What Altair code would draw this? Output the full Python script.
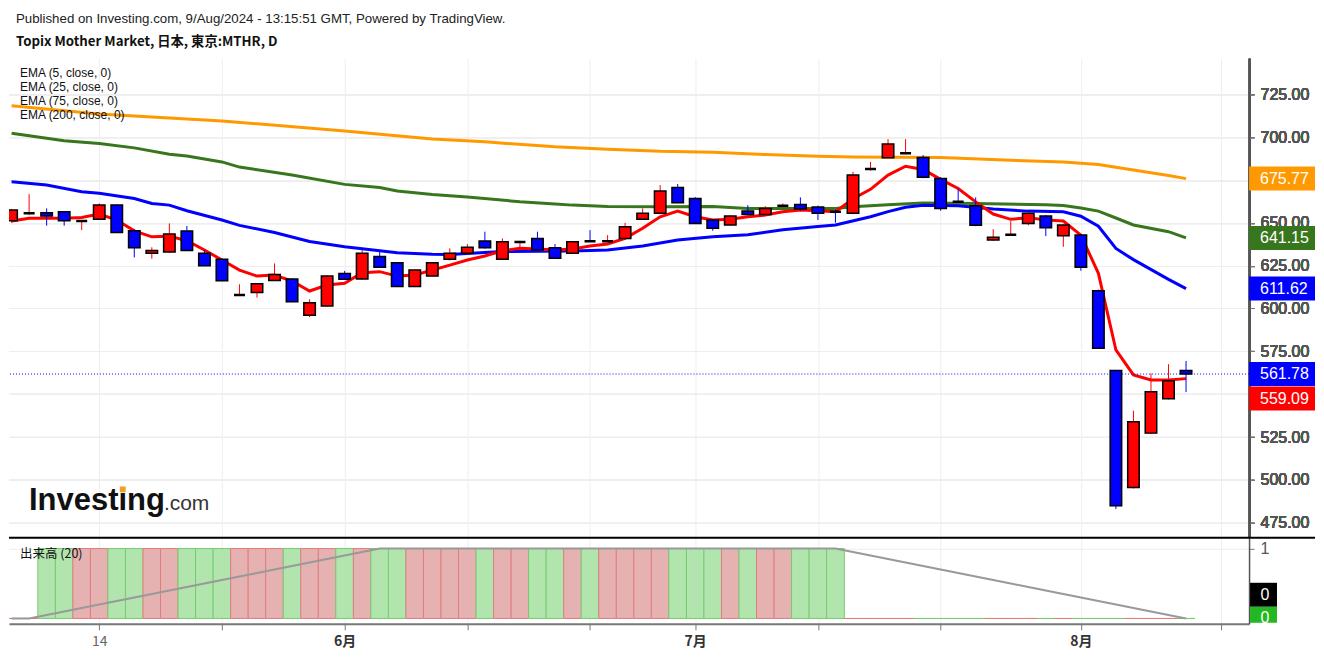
import altair as alt
import pandas as pd

# ---------------- data ----------------
idx = list(range(68))  # trading days 7 May 2024 .. 9 Aug 2024

opens = [651.2, 655.5, 655.8, 656.4, 651.0, 652.0, 660.3, 645.3, 632.2, 632.9,
         645.2, 632.2, 628.7, 607.9, 609.4, 616.3, 617.2, 596.0, 601.5, 620.4,
         617.2, 630.4, 626.7, 612.8, 618.9, 628.7, 632.2, 639.3, 628.7, 638.8,
         640.9, 635.4, 632.2, 639.2, 639.2, 640.9, 652.0, 655.5, 670.6, 664.2,
         651.6, 648.7, 656.8, 654.9, 659.9, 660.7, 659.2, 656.4, 655.5, 681.3,
         687.9, 690.6, 688.1, 675.9, 662.3, 659.9, 639.9, 643.0, 649.6, 653.9,
         642.4, 642.8, 610.4, 563.8, 495.6, 527.3, 547.3, 563.8]
highs = [658.0, 666.7, 658.4, 656.8, 651.5, 661.3, 660.8, 646.2, 635.7, 649.6,
         648.1, 634.1, 629.0, 614.1, 614.6, 626.3, 617.5, 605.4, 619.3, 621.9,
         634.1, 633.1, 627.0, 622.8, 627.0, 635.1, 637.6, 644.8, 640.9, 639.5,
         644.8, 637.6, 639.2, 645.7, 642.8, 650.0, 658.4, 672.0, 672.6, 665.0,
         652.0, 654.2, 660.3, 659.7, 661.3, 664.8, 660.0, 657.5, 679.7, 685.5,
         698.8, 698.8, 689.5, 676.5, 670.0, 664.8, 646.3, 651.0, 655.8, 654.5,
         649.0, 643.5, 611.0, 564.0, 540.4, 562.2, 567.5, 569.4]
lows = [650.0, 654.5, 648.3, 648.3, 645.7, 652.0, 644.0, 629.8, 629.0, 632.5,
        633.5, 624.8, 616.0, 607.5, 606.3, 616.0, 603.8, 595.0, 601.0, 616.8,
        617.0, 623.8, 612.5, 612.5, 618.7, 628.0, 632.0, 635.0, 628.5, 633.7,
        634.0, 629.0, 632.0, 639.0, 639.0, 640.5, 651.8, 655.0, 661.5, 649.5,
        645.3, 648.5, 654.5, 654.5, 659.0, 657.0, 651.6, 650.0, 655.0, 680.5,
        687.5, 690.0, 676.0, 657.0, 661.5, 648.0, 639.5, 642.5, 648.5, 642.2,
        636.0, 622.0, 576.5, 483.0, 495.0, 527.0, 547.0, 551.2]
closes = [657.4, 655.5, 653.9, 651.2, 651.0, 660.3, 644.4, 635.4, 633.9, 643.4,
          633.9, 625.0, 616.2, 607.9, 614.5, 619.9, 604.0, 603.4, 618.9, 617.0,
          632.2, 624.0, 612.8, 622.4, 626.7, 632.2, 635.7, 635.4, 639.0, 638.8,
          634.1, 629.3, 639.0, 639.2, 639.2, 647.7, 655.5, 668.6, 661.7, 649.6,
          646.8, 653.9, 654.9, 658.4, 659.9, 658.0, 655.5, 656.4, 677.8, 681.3,
          695.9, 690.6, 676.5, 658.4, 662.3, 648.5, 641.5, 643.0, 655.5, 647.1,
          648.7, 624.0, 576.8, 484.9, 534.0, 551.5, 557.8, 561.78]
dirs = ["up", "up", "down", "down", "up", "up", "down", "down", "up", "up",
        "down", "down", "down", "up", "up", "up", "down", "up", "up", "down",
        "up", "down", "down", "up", "up", "up", "up", "down", "up", "up",
        "down", "down", "up", "down", "up", "up", "up", "up", "down", "down",
        "down", "up", "down", "up", "up", "down", "down", "down", "up", "up",
        "up", "up", "down", "down", "down", "down", "up", "up", "up", "down",
        "up", "down", "down", "down", "up", "up", "up", "down"]

ema5 = [651.0, 652.6, 652.6, 652.6, 653.1, 655.1, 651.6, 645.3, 641.8, 642.2,
        639.5, 634.1, 628.3, 622.4, 618.9, 619.5, 616.0, 610.2, 613.7, 614.7,
        620.9, 621.5, 618.9, 619.5, 622.4, 625.3, 628.3, 630.6, 633.7, 635.1,
        634.7, 634.1, 634.7, 636.4, 637.6, 640.9, 646.8, 653.5, 656.8, 653.5,
        651.6, 652.0, 653.5, 654.5, 656.4, 657.4, 657.0, 656.4, 664.0, 669.5,
        677.8, 683.0, 681.1, 675.3, 670.0, 662.2, 655.1, 652.0, 653.0, 651.6,
        651.0, 642.8, 620.5, 575.8, 561.3, 558.3, 558.3, 559.09]

ema25_i = [0, 2, 4, 5, 7, 8, 9, 10, 12, 13, 15, 17, 19, 22, 24, 25, 28, 32, 34, 36,
           38, 40, 42, 44, 46, 47, 49, 50, 51, 52, 54, 56, 58, 60, 61, 62, 63, 64, 66, 67]
ema25_v = [674.0, 672.0, 668.1, 667.2, 664.2, 661.3, 660.3, 657.0, 651.6, 648.5,
           644.3, 639.1, 636.0, 632.5, 631.6, 631.5, 633.3, 633.5, 634.1, 636.4,
           639.9, 641.9, 643.0, 645.9, 647.8, 648.7, 653.5, 656.5, 659.0, 660.2,
           660.0, 658.0, 656.8, 656.4, 653.8, 648.0, 635.0, 628.5, 617.0, 611.62]

ema75_i = [0, 3, 5, 7, 9, 10, 12, 13, 16, 19, 21, 22, 24, 26, 29, 31, 32, 34, 37, 40,
           42, 45, 47, 48, 50, 52, 55, 59, 60, 61, 62, 63, 64, 66, 67]
ema75_v = [702.2, 697.8, 696.3, 693.7, 690.0, 688.9, 685.5, 682.5, 677.9, 672.4,
           670.6, 668.5, 666.5, 665.0, 662.3, 661.0, 660.3, 659.5, 659.3, 659.5,
           658.4, 658.4, 658.4, 659.3, 660.5, 661.5, 661.3, 660.5, 660.1, 658.6,
           656.8, 652.8, 648.7, 644.8, 641.15]

ema200_i = [0, 5, 12, 19, 24, 27, 31, 34, 37, 40, 43, 46, 48, 53, 57, 60, 62, 64, 66, 67]
ema200_v = [718.2, 713.4, 709.4, 703.6, 698.9, 697.2, 694.3, 692.9, 691.7, 691.2,
            689.8, 688.8, 688.3, 688.1, 686.5, 685.5, 684.0, 680.8, 677.6, 675.77]

volume = [0, 0, 1, 1, 1, 1, 1, 1, 1, 1,
          1, 1, 1, 1, 1, 1, 1, 1, 1, 1,
          1, 1, 1, 1, 1, 1, 1, 1, 1, 1,
          1, 1, 1, 1, 1, 1, 1, 1, 1, 1,
          1, 1, 1, 1, 1, 1, 1, 1, 0, 0,
          0, 0, 0, 0, 0, 0, 0, 0, 0, 0,
          0, 0, 0, 0, 0, 0, 0, 0]
vol_sma = [0.0, 0.0, 0.05, 0.10, 0.15, 0.20, 0.25, 0.30, 0.35, 0.40,
           0.45, 0.50, 0.55, 0.60, 0.65, 0.70, 0.75, 0.80, 0.85, 0.90,
           0.95, 1.0, 1.0, 1.0, 1.0, 1.0, 1.0, 1.0, 1.0, 1.0,
           1.0, 1.0, 1.0, 1.0, 1.0, 1.0, 1.0, 1.0, 1.0, 1.0,
           1.0, 1.0, 1.0, 1.0, 1.0, 1.0, 1.0, 1.0, 0.95, 0.90,
           0.85, 0.80, 0.75, 0.70, 0.65, 0.60, 0.55, 0.50, 0.45, 0.40,
           0.35, 0.30, 0.25, 0.20, 0.15, 0.10, 0.05, 0.0]

last_price = 561.78
axis_labels = [675.77, 641.15, 611.62, 561.78]
axis_label_colors = ["#ff9900", "#38761d", "#0000ff", "#0000ff"]
ema5_label = 559.09
price_ticks = [475, 500, 525, 550, 575, 600, 625, 650, 675, 700, 725]
hidden_tick = 550  # covered by the EMA(5) value box in the reference
x_ticks = [5, 12, 19, 26, 33, 39, 46, 53, 61, 69]
x_label_idx = [5, 19, 39, 61]
x_label_txt = ["14", "6月", "7月", "8月"]
legend_lines = ["EMA (5, close, 0)", "EMA (25, close, 0)", "EMA (75, close, 0)", "EMA (200, close, 0)"]

# ---------------- frames ----------------
candles = pd.DataFrame({"i": idx, "open": opens, "high": highs, "low": lows,
                        "close": closes, "dir": dirs})
lines = pd.concat([
    pd.DataFrame({"i": ema200_i, "v": ema200_v, "s": "ema200"}),
    pd.DataFrame({"i": ema75_i, "v": ema75_v, "s": "ema75"}),
    pd.DataFrame({"i": ema25_i, "v": ema25_v, "s": "ema25"}),
    pd.DataFrame({"i": idx, "v": ema5, "s": "ema5"}),
])
vol = pd.DataFrame({"i": idx, "vol": volume, "sma": vol_sma, "dir": dirs})
lbl = pd.DataFrame({"val": axis_labels, "col": axis_label_colors})
lbl5 = pd.DataFrame({"val": [ema5_label]})
lastdf = pd.DataFrame({"val": [last_price]})
one = pd.DataFrame({"k": [0]})
legend_df = pd.DataFrame({"row": list(range(len(legend_lines))), "txt": legend_lines})

# ---------------- scales / axes ----------------
W, H_PRICE, H_VOL = 1241, 479, 86
RIGHT = 1307  # right edge of the value boxes, in plot pixels
x_scale = alt.Scale(domain=[0.137, 70.31], nice=False, zero=False)
p_scale = alt.Scale(domain=[466.8, 746.0], nice=False, zero=False)
v_scale = alt.Scale(domain=[-0.076, 1.153], nice=False, zero=False)
GRID = "#eeeeee"

x_price_axis = alt.Axis(values=x_ticks, labels=False, ticks=False, domain=False,
                        grid=True, gridColor=GRID, title=None)
p_axis = alt.Axis(orient="right", values=price_ticks,
                  labelExpr=f"datum.value == {hidden_tick} ? '' : format(datum.value, '.2f')",
                  labelColor="#555555",
                  labelFont="Liberation Sans", labelFontSize=16, tickSize=5,
                  tickColor="#777777", domainColor="#555555", domainWidth=1.5,
                  grid=True, gridColor=GRID, labelPadding=6, title=None)

label_expr = " : ".join(f"datum.value == {k} ? '{t}'" for k, t in zip(x_label_idx, x_label_txt)) + " : ''"
first_lbl = x_label_idx[0]
x_vol_axis = alt.Axis(values=x_ticks, labelExpr=label_expr, tickSize=6, tickColor="#777777",
                      domainColor="#777777", domainWidth=2, grid=True, gridColor=GRID,
                      labelFont="Noto Sans CJK JP", labelFontSize=14, labelPadding=5,
                      labelColor={"condition": {"test": f"datum.value == {first_lbl}", "value": "#666666"}, "value": "#333333"},
                      labelFontWeight={"condition": {"test": f"datum.value == {first_lbl}", "value": "normal"}, "value": "bold"},
                      title=None)
v_axis = alt.Axis(orient="right", values=[1], format="d", labelColor="#555555",
                  labelFont="Liberation Sans", labelFontSize=16, tickSize=5,
                  tickColor="#777777", domainColor="#555555", domainWidth=1.5,
                  grid=True, gridColor=GRID, labelPadding=6, title=None)


def X():
    return alt.X("i:Q", scale=x_scale, axis=x_price_axis)


def PY(f):
    return alt.Y(f"{f}:Q", scale=p_scale, axis=p_axis)


line_colors = {"ema200": "#ff9900", "ema75": "#38761d", "ema25": "#0000ff", "ema5": "#ff0000"}
ema_layers = []
for s in ["ema200", "ema75", "ema25", "ema5"]:
    ema_layers.append(
        alt.Chart(lines).transform_filter(f"datum.s == '{s}'")
        .mark_line(color=line_colors[s], strokeWidth=3, clip=True)
        .encode(x=X(), y=PY("v"))
    )

dir_scale = alt.Scale(domain=["up", "down"], range=["#ff0000", "#0000ff"])

last_rule = alt.Chart(lastdf).mark_rule(color="#0000ff", strokeDash=[1, 2], strokeWidth=1).encode(y=PY("val"))

wicks = alt.Chart(candles).mark_rule(strokeWidth=1, clip=True).encode(
    x=X(), y=PY("low"), y2="high", color=alt.Color("dir:N", scale=dir_scale, legend=None))

bodies = alt.Chart(candles).transform_filter("datum.open != datum.close").mark_bar(
    size=11.5, stroke="black", strokeWidth=1.5, opacity=1, orient="vertical", clip=True
).encode(x=X(), y=PY("open"), y2="close", color=alt.Color("dir:N", scale=dir_scale, legend=None))

dojis = alt.Chart(candles).transform_filter("datum.open == datum.close").mark_bar(
    size=11, color="black", stroke="black", strokeWidth=2.5, opacity=1, orient="vertical", clip=True
).encode(x=X(), y=PY("open"), y2="close")

# indicator legend, one text per line, 14 px apart
legend_txt = alt.Chart(legend_df).transform_calculate(
    ypix="19 + 14 * datum.row"
).mark_text(align="left", baseline="alphabetic", font="Liberation Sans", fontSize=12,
            color="#111111").encode(
    x=alt.value(11), y=alt.Y("ypix:Q", scale=None, axis=None), text="txt:N")

logo1 = alt.Chart(one).mark_text(align="left", baseline="alphabetic", font="Liberation Sans",
                                 fontSize=31, fontWeight="bold", color="#111111").encode(
    x=alt.value(20), y=alt.value(452), text=alt.value("Investing"))
logo_dot = alt.Chart(one).mark_point(shape="square", filled=True, size=34, opacity=1,
                                     color="#f5a01a").encode(x=alt.value(113.8), y=alt.value(431.5))
logo2 = alt.Chart(one).mark_text(align="left", baseline="alphabetic", font="Liberation Sans",
                                 fontSize=21, color="#333333").encode(
    x=alt.value(155), y=alt.value(452), text=alt.value(".com"))

boxes = alt.Chart(lbl).mark_tick(orient="horizontal", thickness=24, size=RIGHT - W, opacity=1).encode(
    x=alt.value((RIGHT + W) / 2), y=PY("val"), color=alt.Color("col:N", scale=None))
box_txt = alt.Chart(lbl).mark_text(align="left", baseline="middle", font="Liberation Sans",
                                   fontSize=16, color="white").encode(
    x=alt.value(1252), y=PY("val"), text=alt.Text("val:Q", format=".2f"))
box5 = alt.Chart(lbl5).mark_tick(orient="horizontal", thickness=24, size=RIGHT - W, opacity=1,
                                 color="#ff0000", yOffset=20).encode(x=alt.value((RIGHT + W) / 2), y=PY("val"))
box5_txt = alt.Chart(lbl5).mark_text(align="left", baseline="middle", font="Liberation Sans",
                                     fontSize=16, color="white", yOffset=20).encode(
    x=alt.value(1252), y=PY("val"), text=alt.Text("val:Q", format=".2f"))

price = alt.layer(*ema_layers, last_rule, wicks, bodies, dojis, legend_txt, logo1, logo_dot, logo2,
                  boxes, box_txt, box5, box5_txt).resolve_scale(y="independent").properties(
    width=W, height=H_PRICE)

# ---------------- volume pane ----------------
XV = alt.X("i:Q", scale=x_scale, axis=x_vol_axis)
vfill = alt.Scale(domain=["up", "down"], range=["#e6b1b1", "#b1e5ad"])
vstroke = alt.Scale(domain=["up", "down"], range=["#e07c7c", "#72cc6e"])


def VY(f):
    return alt.Y(f"{f}:Q", scale=v_scale, axis=v_axis)


vbars = alt.Chart(vol).mark_bar(size=17.7, strokeWidth=1, opacity=1, orient="vertical", clip=True).encode(
    x=XV, y=VY("vol"), y2=alt.datum(0),
    fill=alt.Fill("dir:N", scale=vfill, legend=None),
    stroke=alt.Stroke("dir:N", scale=vstroke, legend=None))
vline = alt.Chart(vol).mark_line(color="#999999", strokeWidth=2, clip=True).encode(x=XV, y=VY("sma"))
vtitle = alt.Chart(one).mark_text(align="left", baseline="alphabetic", font="Noto Sans CJK JP",
                                  fontSize=12.5, color="#111111").encode(
    x=alt.value(11), y=alt.value(20), text=alt.value("出来高 (20)"))
sep = alt.Chart(one).mark_rule(color="black", strokeWidth=2).encode(
    x=alt.value(0), x2=alt.value(RIGHT), y=alt.value(0))
zero = one.assign(v=0)
zero_black = alt.Chart(zero).mark_tick(orient="horizontal", thickness=24, size=27, opacity=1,
                                       color="black", yOffset=-23.7).encode(
    x=alt.value(1255.5), y=VY("v"))
zero_black_t = alt.Chart(zero).mark_text(align="center", baseline="middle", font="Liberation Sans",
                                         fontSize=16, color="white", yOffset=-23.7).encode(
    x=alt.value(1257), y=VY("v"), text=alt.value("0"))
zero_green = alt.Chart(zero).mark_tick(orient="horizontal", thickness=16, size=27, opacity=1,
                                       color="#22b822", yOffset=-3.7).encode(
    x=alt.value(1255.5), y=VY("v"))
zero_green_t = alt.Chart(zero).mark_text(align="center", baseline="middle", font="Liberation Sans",
                                         fontSize=16, color="white", yOffset=0).encode(
    x=alt.value(1257), y=VY("v"), text=alt.value("0"))

volpane = alt.layer(vbars, vline, vtitle, zero_black, zero_black_t, zero_green, zero_green_t, sep
                    ).properties(width=W, height=H_VOL)

chart = alt.vconcat(price, volpane, spacing=0).properties(
    title=alt.TitleParams(
        text="Published on Investing.com, 9/Aug/2024 - 13:15:51 GMT, Powered by TradingView.",
        subtitle="Topix Mother Market, 日本, 東京:MTHR, D",
        anchor="start", font="Liberation Sans", fontSize=13.3, fontWeight="normal", color="#222222",
        subtitleFont="Noto Sans CJK JP", subtitleFontSize=13.3, subtitleFontWeight="bold",
        subtitleColor="#111111", subtitlePadding=10, offset=10, dx=8),
    padding={"left": 0, "top": 3, "right": 0, "bottom": 0},
    background="white",
).configure_view(stroke=None).configure_concat(spacing=0)

chart.save("out.html", embed_options={"renderer": "svg", "actions": False})
